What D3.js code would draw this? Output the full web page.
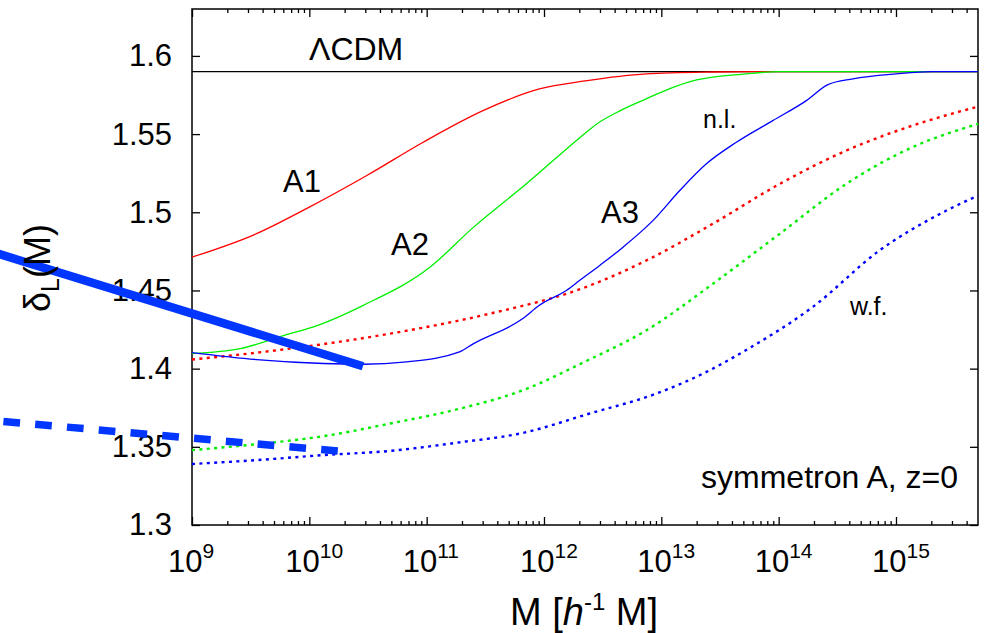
<!DOCTYPE html>
<html>
<head>
  <meta charset="utf-8">
  <title>delta_L(M) symmetron A</title>
  <style>
    body { margin: 0; background: #fff; }
    text { font-family: "Liberation Sans", Arial, sans-serif; fill: #000; }
  </style>
</head>
<body>
  <script src="https://d3js.org/d3.v7.min.js"></script>
  <script type="text/javascript">
  // values: log10(M) and delta_L
  var lcdm = 1.59;

  var a1LogM  = [9.0, 9.55, 10.0, 10.49, 10.97, 11.48, 11.96, 12.35, 12.87, 13.44, 13.9, 15.7];
  var a1Delta = [1.4713, 1.4863, 1.5033, 1.5235, 1.5448, 1.565, 1.5789, 1.584, 1.5885, 1.5897, 1.59, 1.59];

  var a2LogM  = [9.0, 9.41, 9.835, 10.03, 10.46, 11.03, 11.4, 11.85, 12.31, 12.45, 12.65, 12.87, 13.1, 13.3, 13.72, 14.0, 15.7];
  var a2Delta = [1.4096, 1.4128, 1.4224, 1.4266, 1.4405, 1.465, 1.4905, 1.5182, 1.548, 1.5565, 1.565, 1.5725, 1.5799, 1.5846, 1.5885, 1.59, 1.59];

  var a3LogM  = [9.0, 9.55, 10.12, 10.46, 10.83, 11.28, 11.4, 11.82, 11.96, 12.19, 12.305, 12.475, 12.674, 12.93, 13.157, 13.384, 13.64, 13.95, 14.236, 14.42, 14.633, 15.0, 15.3, 15.7];
  var a3Delta = [1.4103, 1.4058, 1.4033, 1.4028, 1.4043, 1.4107, 1.416, 1.432, 1.4405, 1.45, 1.4565, 1.466, 1.4777, 1.4948, 1.5139, 1.531, 1.5448, 1.5586, 1.5714, 1.5816, 1.5853, 1.5885, 1.59, 1.59];

  var a1wfLogM  = [9.0, 9.835, 10.69, 11.54, 12.35, 12.873, 13.44, 14.01, 14.577, 15.14, 15.7];
  var a1wfDelta = [1.4058, 1.4128, 1.4224, 1.4352, 1.452, 1.4692, 1.4927, 1.5182, 1.5395, 1.5554, 1.5676];

  var a2wfLogM  = [9.0, 9.55, 10.12, 10.69, 11.255, 11.82, 12.35, 12.873, 13.44, 14.01, 14.577, 15.14, 15.7];
  var a2wfDelta = [1.3479, 1.3517, 1.3568, 1.3649, 1.3739, 1.3862, 1.4045, 1.4245, 1.4543, 1.4863, 1.5182, 1.5416, 1.5565];

  var a3wfLogM  = [9.0, 9.55, 10.12, 10.69, 11.255, 11.82, 12.39, 12.96, 13.384, 13.72, 14.29, 14.86, 15.43, 15.7];
  var a3wfDelta = [1.339, 1.3415, 1.3447, 1.3474, 1.3526, 1.3589, 1.3713, 1.3841, 1.3979, 1.4118, 1.4394, 1.4756, 1.5011, 1.5107];

  // the two thick blue lines that run off the left edge
  var thickLogM  = [7.3, 10.457];
  var thickDelta = [1.4746, 1.4015];
  var thickDashLogM  = [7.3, 10.244];
  var thickDashDelta = [1.3668, 1.3473];

  var yTicks = [1.3, 1.35, 1.4, 1.45, 1.5, 1.55, 1.6];
  var yTickLabels = ["1.3", "1.35", "1.4", "1.45", "1.5", "1.55", "1.6"];
  var xDecades = [9, 10, 11, 12, 13, 14, 15];

  var margin = {top: 9, right: 6, bottom: 108, left: 192},
      W = 984, H = 633,
      width = W - margin.left - margin.right,
      height = H - margin.top - margin.bottom;

  var svg = d3.select("body").append("svg")
      .attr("width", W)
      .attr("height", H);

  var chart = svg.append("g")
      .attr("transform", "translate(" + margin.left + "," + margin.top + ")");

  var x = d3.scaleLog().domain([1e9, 5e15]).range([0, width]);
  var y = d3.scaleLinear().domain([1.3, 1.63]).range([height, 0]);

  function pts(logs, vals) {
    return logs.map(function(l, i) { return [Math.pow(10, l), vals[i]]; });
  }

  var line = d3.line()
      .x(function(d) { return x(d[0]); })
      .y(function(d) { return y(d[1]); })
      .curve(d3.curveMonotoneX);

  // minor ticks
  var minor = [];
  xDecades.forEach(function(e) {
    for (var k = 2; k <= 9; k++) {
      var v = k * Math.pow(10, e);
      if (v < 5e15) minor.push(v);
    }
  });
  var majors = xDecades.map(function(e) { return Math.pow(10, e); });

  chart.append("g")
      .attr("transform", "translate(0," + height + ")")
      .call(d3.axisBottom(x).tickValues(minor).tickSize(-4).tickFormat(""));
  chart.append("g")
      .call(d3.axisTop(x).tickValues(minor).tickSize(-4).tickFormat(""));
  chart.append("g")
      .attr("transform", "translate(0," + height + ")")
      .call(d3.axisBottom(x).tickValues(majors).tickSize(-8).tickFormat(""));
  chart.append("g")
      .call(d3.axisTop(x).tickValues(majors).tickSize(-8).tickFormat(""));

  chart.append("g")
      .attr("class", "yaxis")
      .call(d3.axisLeft(y).tickValues(yTicks).tickSize(-8).tickPadding(20)
        .tickFormat(function(d, i) { return yTickLabels[i]; }));
  chart.append("g")
      .attr("transform", "translate(" + width + ",0)")
      .call(d3.axisRight(y).tickValues(yTicks).tickSize(-8).tickFormat(""));

  chart.selectAll(".domain").remove();
  chart.selectAll(".tick line").attr("stroke", "#000").attr("stroke-width", 1.3);
  chart.selectAll(".yaxis text")
      .attr("font-size", 31)
      .attr("font-family", "Liberation Sans, Arial, sans-serif");

  // x tick labels as 10^n
  xDecades.forEach(function(e) {
    var t = chart.append("text")
        .attr("x", x(Math.pow(10, e)) - 24)
        .attr("y", height + 47)
        .attr("font-size", 31);
    t.append("tspan").text("10");
    t.append("tspan").attr("dy", -14).attr("font-size", 21).text(e);
  });

  // frame
  chart.append("rect")
      .attr("width", width).attr("height", height)
      .attr("fill", "none").attr("stroke", "#000").attr("stroke-width", 1.5);

  // LCDM
  chart.append("line")
      .attr("x1", 0).attr("x2", width)
      .attr("y1", y(lcdm)).attr("y2", y(lcdm))
      .attr("stroke", "#000").attr("stroke-width", 1.2);

  var series = [
    {lm: a1wfLogM, v: a1wfDelta, c: "#ff0000", dash: "3,4.4"},
    {lm: a2wfLogM, v: a2wfDelta, c: "#00ee00", dash: "3,4.4"},
    {lm: a3wfLogM, v: a3wfDelta, c: "#0000ff", dash: "3,4.4"},
    {lm: a1LogM, v: a1Delta, c: "#ff0000", dash: null},
    {lm: a2LogM, v: a2Delta, c: "#00ee00", dash: null},
    {lm: a3LogM, v: a3Delta, c: "#0000ff", dash: null}
  ];

  var plot = chart.append("g");
  series.forEach(function(s) {
    plot.append("path")
        .datum(pts(s.lm, s.v))
        .attr("d", line)
        .attr("fill", "none")
        .attr("stroke", s.c)
        .attr("stroke-width", s.dash ? 2.4 : 1.3)
        .attr("stroke-dasharray", s.dash);
  });

  var straight = d3.line()
      .x(function(d) { return x(d[0]); })
      .y(function(d) { return y(d[1]); });

  chart.append("path")
      .datum(pts(thickLogM, thickDelta))
      .attr("d", straight)
      .attr("fill", "none")
      .attr("stroke", "#0036ff")
      .attr("stroke-width", 8.5);
  chart.append("path")
      .datum(pts(thickDashLogM, thickDashDelta))
      .attr("d", straight)
      .attr("fill", "none")
      .attr("stroke", "#0036ff")
      .attr("stroke-width", 7.5)
      .attr("stroke-dasharray", "16.7,15.2")
      .attr("stroke-dashoffset", 21);

  // labels
  function label(txt, px, py, size, anchor) {
    svg.append("text")
        .attr("x", px).attr("y", py)
        .attr("font-size", size)
        .attr("text-anchor", anchor || "start")
        .text(txt);
  }
  label("\u039BCDM", 309, 60, 32);
  label("A1", 283, 192, 31);
  label("A2", 391, 255, 31);
  label("A3", 601, 223, 31);
  label("n.l.", 703, 128, 25);
  label("w.f.", 850, 315, 25);
  label("symmetron A, z=0", 958, 488, 32, "end");

  // axis titles
  var xt = svg.append("text")
      .attr("x", 584).attr("y", 625)
      .attr("font-size", 38)
      .attr("text-anchor", "middle");
  xt.append("tspan").text("M [");
  xt.append("tspan").attr("font-style", "italic").text("h");
  xt.append("tspan").attr("dy", -15).attr("font-size", 24).text("-1");
  xt.append("tspan").attr("dy", 15).text(" M]");

  var yt = svg.append("text")
      .attr("transform", "translate(50,268) rotate(-90)")
      .attr("font-size", 36)
      .attr("text-anchor", "middle");
  yt.append("tspan").text("\u03B4");
  yt.append("tspan").attr("dy", 9).attr("font-size", 25).text("L");
  yt.append("tspan").attr("dy", -9).text("(M)");
  </script>
</body>
</html>
